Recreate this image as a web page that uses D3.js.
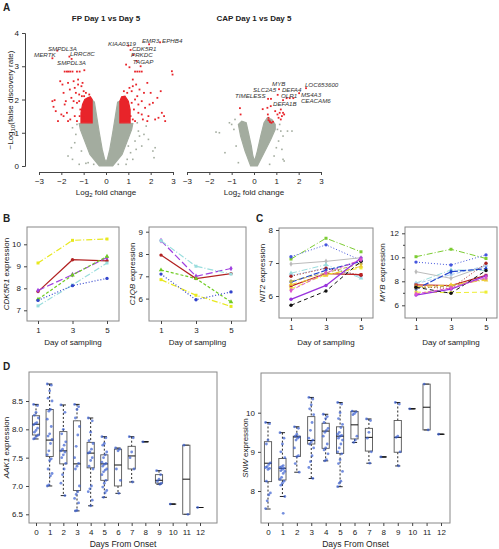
<!DOCTYPE html>
<html><head><meta charset="utf-8">
<script src="https://cdn.jsdelivr.net/npm/d3@7"></script>
<style>body{margin:0;background:#fff}text{font-family:"Liberation Sans",Arial,sans-serif}</style>
</head><body><svg id="c" width="499" height="549"></svg>
<script>
// ---------------- DATA ----------------
// Panel A: volcano plots (log2 fold change, -log10 FDR)
const fpGrayCloud = [[-0.3,0],[0.3,0],[0.72,0.35],[0.98,0.8],[1.15,1.1],[1.2,1.28],[0.62,1.3],[0.62,1.95],[0.52,1.92],[0.42,1.5],[0.3,1.0],[0.17,0.5],[0.06,0.2],[0,0.12],[-0.06,0.2],[-0.17,0.5],[-0.3,1.0],[-0.42,1.5],[-0.52,1.92],[-0.62,1.98],[-0.62,1.3],[-1.2,1.28],[-1.15,1.1],[-0.98,0.8],[-0.72,0.35]];
const fpGrayOut = [[-1.5,0.2],[-1.2,0.05],[-0.9,0.08],[0.9,0.05],[1.2,0.2],[1.6,0.6],[1.5,0.9],[1.3,0.75],[1.45,1.05],[-1.35,0.95],[-1.5,1.15],[-1.1,0.45],[1.1,0.4],[2.1,0.45],[2.15,0.25],[1.4,1.3],[-1.3,1.25],[0.95,0.2],[-0.8,0.1],[1.7,0.95],[-1.55,0.55],[1.0,0.6],[0.55,0.05],[-0.55,0.05],[2.2,0.55],[1.8,1.2],[-1.7,0.3],[-1.4,0.7],[1.35,0.5],[1.9,0.8]];
const fpRedLeftBlock = [[-1.12,1.3],[-0.62,1.3],[-0.62,2.0],[-0.7,2.08],[-0.82,2.05],[-0.95,2.0],[-1.05,1.85],[-1.12,1.6]];
const fpRedRightBlock = [[0.62,1.3],[1.08,1.3],[1.08,1.7],[1.0,1.95],[0.85,2.1],[0.7,2.08],[0.62,1.95]];
const fpRedPts = [[-2.35,1.78],[-2.3,1.98],[-2.25,1.65],[-2.05,2.55],[-1.95,2.45],[-1.85,2.84],[-1.75,2.84],[-1.68,2.84],[-1.6,2.84],[-1.5,2.84],[-1.3,2.84],[-1.18,2.84],[-0.97,2.88],[-1.9,2.2],[-1.8,1.95],[-1.75,1.6],[-1.7,2.5],[-1.62,2.3],[-1.55,2.05],[-1.5,1.75],[-1.45,2.55],[-1.4,1.5],[-1.35,2.2],[-1.3,1.9],[-1.25,2.6],[-1.2,2.15],[-1.15,1.7],[-1.1,2.4],[-1.05,2.5],[-1.02,1.45],[-1.0,2.25],[-2.0,1.55],[-2.15,1.35],[-1.6,1.4],[-1.85,1.85],[-1.4,2.35],[-1.25,2.45],[-0.98,2.1],[-1.3,1.35],[-2.4,1.95],[-1.2,1.95],[-1.18,1.5],[-0.9,2.2],[-0.75,2.15],[-1.08,2.1],[-1.45,1.95],[-1.7,1.35],[-1.9,1.5],
  [-2.4,3.24],[-2.18,3.47],[-1.64,3.29],[-1.54,3.22],[1.0,3.62],[1.1,3.49],[1.93,3.66],[2.42,3.72],[1.22,3.34],[1.37,3.16],
  [0.9,3.05],[1.05,2.97],[1.3,2.84],[1.4,2.84],[1.5,2.84],[1.6,2.84],[1.55,3.0],[2.95,2.85],[2.98,2.75],[1.2,2.6],[1.35,2.45],[1.5,2.3],[1.7,2.2],[1.85,2.5],[2.0,2.2],[2.1,1.9],[2.3,2.05],[2.5,1.6],[2.6,1.5],[2.35,1.45],[1.9,1.5],[1.75,1.75],[1.6,1.95],[1.45,1.6],[1.3,2.0],[1.25,1.7],[1.15,2.25],[1.1,1.5],[2.2,1.4],[1.85,1.35],[1.65,1.4],[1.4,2.1],[1.2,2.4],[1.95,1.85],[2.45,2.25],[2.65,1.35],[1.15,1.9],[1.2,1.4],[0.95,2.2],[0.8,2.25],[1.05,2.35],[1.3,1.35],[1.45,1.85],[1.6,1.55]];
const fpLabelNames = ["SMPDL3A","MERTK","LRRC8C","SMPDL3A","KIAA0319","EMR3","EPHB4","CDK5R1","PRKDC","TAGAP"];
const fpLabelAt = [[-2.6,3.47],[-3.22,3.29],[-1.61,3.32],[-2.19,3.05],[0.09,3.62],[1.61,3.71],[2.51,3.71],[1.16,3.47],[1.12,3.29],[1.2,3.08]];

const capGrayCloud = [[-0.15,0],[0.15,0],[0.45,0.4],[0.75,0.8],[0.95,1.1],[0.95,1.25],[0.8,1.4],[0.6,1.45],[0.45,1.3],[0.3,0.9],[0.15,0.45],[0.03,0.15],[-0.05,0.3],[-0.12,0.6],[-0.25,1.0],[-0.35,1.3],[-0.55,1.35],[-0.7,1.25],[-0.6,0.9],[-0.4,0.45]];
const capGrayOut = [[-1.7,1.02],[-1.55,1.0],[-1.1,1.3],[-1.0,1.25],[-0.85,1.4],[1.05,1.1],[1.2,1.05],[1.3,0.9],[1.5,1.05],[1.1,0.75],[1.25,0.5],[1.3,0.2],[1.35,0.15],[-1.3,0.4],[-0.8,0.6],[0.9,0.3],[1.0,0.55],[-0.7,0.1],[0.7,0.05],[1.7,1.05],[1.15,1.25],[-0.9,1.1]];
const capRedPts = [[1.12,2.31],[1.06,2.14],[2.33,2.34],[2.02,2.19],[1.46,2.04],[1.6,2.04],[1.76,2.04],[1.3,1.98],[0.63,2.02],[0.76,2.02],
  [0.6,1.75],[0.62,1.55],[0.65,1.45],[0.7,1.35],[0.72,1.32],[0.78,1.3],[0.85,1.33],[0.65,1.38],[1.05,1.55],[1.15,1.6],[1.25,1.5],[1.3,1.6],[1.2,1.4],[1.1,1.45],[1.35,1.55],[0.95,1.65],[1.2,1.7],[0.39,1.71],[-0.63,1.74],[-0.6,1.55],[0.75,1.8]];
const capLabelNames = ["MYB","SLC2A5","DEFA4","TIMELESS","OLR1","LOC653600","MS4A3","CEACAM6","DEFA1B"];
const capLabelAt = [[0.81,2.42],[-0.04,2.24],[1.25,2.24],[-0.85,2.06],[1.21,2.06],[2.28,2.39],[2.1,2.08],[2.1,1.9],[0.85,1.79]];
const volcanoTicksX = [-3,-2,-1,0,1,2,3];
const volcanoTicksY = [0,1,2,3,4];

// Panels B and C: expression by day of sampling
const samplingDays = [1,3,5];
const cdk5r1 = [[9.15,10.18,10.24],[7.85,9.3,9.25],[7.9,8.62,9.4],[7.5,8.6,9.45],[7.2,8.15,9.15],[7.45,8.12,8.45]];
const c1qb = [[6.85,6.15,5.65],[7.95,6.9,7.12],[8.6,7.0,7.35],[7.28,6.9,5.85],[8.6,7.45,7.1],[7.1,5.95,6.3]];
const nit2 = [[7.12,7.75,7.34],[7.19,7.55,7.08],[6.97,7.05,7.16],[6.69,6.95,6.54],[6.62,6.85,6.6],[6.6,6.84,6.63],[6.3,6.68,6.65],[6.42,6.78,7.05],[6.45,6.7,6.98],[6.22,6.65,6.85],[6.35,6.62,6.9],[5.9,6.32,7.15],[5.72,6.15,7.05],[6.17,6.7,7.1]];
const myb = [[10.05,10.67,9.9],[9.6,9.36,10.2],[8.8,8.25,9.3],[7.85,8.95,8.9],[7.8,8.55,9.3],[7.55,7.4,9.5],[7.7,7.65,8.5],[7.35,8.8,9.05],[7.45,7.6,8.2],[7.1,7.05,7.1],[7.55,7.7,8.1],[6.85,7.35,8.45],[7.5,7.0,8.9],[6.95,7.45,8.3]];

// Panel D: expression by days from onset (boxplots + samples)
const onsetDays = [0,1,2,3,4,5,6,7,8,9,10,11,12];
const aak1Q3  = [8.24,8.35,7.96,8.15,7.77,7.55,7.65,7.7,7.78,7.2,6.68,7.72,6.62];
const aak1Med = [8.09,7.81,7.62,7.39,7.58,7.39,7.37,7.53,7.78,7.1,6.68,7.12,6.62];
const aak1Q1  = [7.9,7.52,7.39,6.92,7.32,7.1,7.0,7.3,7.78,7.05,6.68,6.5,6.62];
const aak1Hi  = [8.44,8.8,8.43,8.44,8.2,7.87,7.67,7.87,7.78,7.27,6.68,7.72,6.62];
const aak1Lo  = [7.83,7.0,6.83,6.56,6.65,6.8,6.87,7.07,7.78,7.03,6.68,6.5,6.62];
const aak1Samples = [
  [8.44,8.42,8.3,8.25,8.2,8.12,8.1,8.08,8.02,7.98,7.95,7.9,7.88,7.85,7.83],
  [8.8,8.78,8.68,8.55,8.5,8.35,8.32,8.18,8.05,7.92,7.88,7.82,7.75,7.62,7.55,7.48,7.45,7.3,7.22,7.18,7.02,7.0],
  [8.43,8.3,8.0,7.92,7.78,7.72,7.65,7.62,7.6,7.55,7.5,7.4,7.3,7.2,7.05,6.83],
  [8.44,8.4,8.35,8.2,8.05,7.9,7.7,7.5,7.4,7.35,7.3,7.0,6.9,6.85,6.78,6.7,6.57,6.56],
  [8.2,8.15,7.95,7.8,7.75,7.65,7.6,7.58,7.5,7.45,7.35,7.3,7.0,6.95,6.9,6.75,6.65],
  [7.87,7.85,7.75,7.72,7.6,7.55,7.5,7.42,7.4,7.38,7.35,7.3,7.28,7.25,7.2,7.1,7.05,6.98,6.92,6.88,6.8],
  [7.67,7.65,7.62,7.3,7.1,6.87],
  [7.87,7.85,7.6,7.5,7.3,7.07],
  [7.78],
  [7.27,7.2,7.12,7.08,7.05,7.03],
  [6.68],
  [7.72,6.5],
  [6.62]];
const snwQ3  = [9.26,8.83,9.4,9.9,9.73,9.64,10.03,9.6,8.87,9.8,10.1,10.73,9.45];
const snwMed = [8.71,8.58,9.38,9.29,9.53,9.4,9.69,9.37,8.87,9.37,10.1,10.14,9.45];
const snwQ1  = [8.24,8.28,8.88,9.2,9.09,8.96,9.33,9.02,8.87,8.99,10.1,9.56,9.45];
const snwHi  = [9.75,9.49,9.64,10.39,9.96,10.26,10.04,9.84,8.87,10.26,10.1,10.73,9.45];
const snwLo  = [7.54,7.86,8.48,8.32,8.77,8.11,9.24,8.71,8.87,8.64,10.1,9.56,9.45];
const snwSamples = [
  [9.75,9.72,9.3,9.2,8.72,8.68,8.62,8.6,8.58,8.55,8.25,7.95,7.9,7.75,7.55],
  [9.49,9.35,9.2,9.0,8.85,8.65,8.62,8.6,8.58,8.55,8.52,8.5,8.45,8.35,8.3,8.25,8.2,8.15,7.86,7.43],
  [9.64,9.6,9.45,9.4,9.38,9.35,9.3,9.1,8.9,8.88,8.7,8.48],
  [10.39,10.35,10.2,10.1,9.95,9.75,9.55,9.35,9.3,9.25,9.2,9.1,8.9,8.75,8.6,8.32],
  [9.96,9.9,9.85,9.75,9.6,9.55,9.5,9.4,9.2,9.1,9.05,8.95,8.8,8.77],
  [10.26,10.22,10.0,9.85,9.7,9.62,9.5,9.45,9.42,9.4,9.35,9.3,9.2,9.1,9.0,8.95,8.8,8.7,8.5,8.25,8.2,8.11],
  [10.04,10.02,9.98,9.95,9.4,9.3,9.24],
  [9.84,9.8,9.5,9.35,9.0,8.71],
  [8.87],
  [10.26,10.22,9.4,9.37,9.0,8.64],
  [10.1],
  [10.73,9.56],
  [9.45]];

// ---------------- STYLES ----------------
const GRAY = "#a3ac9f", RED = "#e8242a";
const bColors = ["#e8e81e","#b22222","#a040e0","#6fcc22","#99dddd","#3344cc"];
const bDash = ["6,2,1,2","","7,3","3,2","6,2,1,2","1,2"];
const cColors = ["#7ccc33","#4455dd","#bbbbbb","#99dddd","#aaccee","#aa2222","#bb2222","#2244cc","#bbaa55","#eeee33","#eecc33","#9933dd","#111111","#dd55cc"];
const cDash = ["6,2,1,2","1,2","","6,2,1,2","4,2","1,2","","6,2","4,2","5,3","6,2,1,2","","4,3","4,2"];
const cWidth = [1,1,1,1,1,1,1.2,1.2,1,1,1,1.4,1,1];

// ---------------- DRAW ----------------
const svg = d3.select("#c");
svg.append("rect").attr("width",499).attr("height",549).attr("fill","#fff");
const FONT = 8;
function styleAxis(g){
  g.selectAll("text").attr("font-size",FONT).attr("fill","#222");
  g.selectAll("line").attr("stroke","#444");
  g.select(".domain").attr("stroke","#444");
}
function txt(x,y,s,opt={}){
  const t = svg.append("text").attr("x",x).attr("y",y).attr("font-size",opt.size||FONT)
    .attr("fill",opt.fill||"#222").attr("text-anchor",opt.anchor||"start");
  if(opt.bold) t.attr("font-weight","bold");
  if(opt.italic) t.attr("font-style","italic");
  if(opt.rotate) t.attr("transform",`rotate(-90,${x},${y})`);
  t.text(s); return t;
}
// panel letters
txt(3,11,"A",{bold:true,size:10});
txt(3,222,"B",{bold:true,size:10});
txt(256,222,"C",{bold:true,size:10});
txt(3,370,"D",{bold:true,size:10});

// ---- Panel A ----
const vY = d3.scaleLinear().domain([0,4]).range([166,33]);
function volcano(xs, cloud, grayOut, redBlocks, redPts, names, at, title){
  const line = d3.line().x(d=>xs(d[0])).y(d=>vY(d[1]));
  svg.append("path").attr("d",line(cloud)+"Z").attr("fill",GRAY).attr("stroke",GRAY).attr("stroke-width",1.2);
  svg.append("g").selectAll("rect").data(grayOut).join("rect")
    .attr("x",d=>xs(d[0])-0.8).attr("y",d=>vY(d[1])-0.8).attr("width",1.6).attr("height",1.6).attr("fill",GRAY);
  redBlocks.forEach(b=>svg.append("path").attr("d",line(b)+"Z").attr("fill",RED).attr("stroke",RED).attr("stroke-width",1.2));
  svg.append("g").selectAll("rect").data(redPts).join("rect")
    .attr("x",d=>xs(d[0])-0.9).attr("y",d=>vY(d[1])-0.9).attr("width",1.8).attr("height",1.8).attr("fill",RED);
  names.forEach((n,i)=>txt(xs(at[i][0]),vY(at[i][1]),n,{italic:true,size:6.2,fill:"#333"}));
  const ax = svg.append("g").attr("transform","translate(0,172)")
    .call(d3.axisBottom(xs).tickValues(volcanoTicksX).tickSize(3).tickPadding(3).tickFormat(d3.format("d")));
  styleAxis(ax);
  const cx = (xs.range()[0]+xs.range()[1])/2;
  const t = txt(cx,195,"",{anchor:"middle"});
  t.append("tspan").text("Log");
  t.append("tspan").attr("font-size",6).attr("dy",2).text("2");
  t.append("tspan").attr("dy",-2).text(" fold change");
  txt(cx,21,title,{bold:true,anchor:"middle"});
}
const fpX = d3.scaleLinear().domain([-3,3]).range([39,173]);
const capX = d3.scaleLinear().domain([-3,3]).range([187,321]);
volcano(fpX, fpGrayCloud, fpGrayOut, [fpRedLeftBlock, fpRedRightBlock], fpRedPts, fpLabelNames, fpLabelAt, "FP Day 1 vs Day 5");
volcano(capX, capGrayCloud, capGrayOut, [], capRedPts, capLabelNames, capLabelAt, "CAP Day 1 vs Day 5");
const ay = svg.append("g").attr("transform","translate(25,0)")
  .call(d3.axisLeft(vY).tickValues(volcanoTicksY).tickSize(3).tickPadding(3).tickFormat(d3.format("d")));
styleAxis(ay);
{
  const t = txt(13,100,"",{anchor:"middle",rotate:true});
  t.append("tspan").text("\u2212Log");
  t.append("tspan").attr("font-size",6).attr("dy",2).text("10");
  t.append("tspan").attr("dy",-2).text("(false discovery rate)");
}

// ---- Panels B, C ----
const symbols = [d3.symbolSquare,d3.symbolCircle,d3.symbolDiamond,d3.symbolTriangle,d3.symbolSquare,d3.symbolCircle,d3.symbolSquare,d3.symbolDiamond,d3.symbolCircle,d3.symbolSquare,d3.symbolTriangle,d3.symbolCircle,d3.symbolCircle,d3.symbolDiamond];
function linePanel(p){
  const xs = d3.scaleLinear().domain([1,5]).range(p.xr);
  const ys = d3.scaleLinear().domain(p.yd).range(p.yr);
  const g = svg.append("g");
  const line = d3.line().x((d,i)=>xs(samplingDays[i])).y(d=>ys(d));
  p.series.forEach((s,k)=>{
    g.append("path").attr("d",line(s)).attr("fill","none").attr("stroke",p.colors[k])
      .attr("stroke-width",p.widths? p.widths[k]:1.2).attr("stroke-dasharray",p.dash[k]||null);
    g.selectAll(null).data(s).join("path")
      .attr("transform",(d,i)=>`translate(${xs(samplingDays[i])},${ys(d)})`)
      .attr("d",d3.symbol().type(symbols[k%symbols.length]).size(9)).attr("fill",p.colors[k]);
  });
  svg.append("rect").attr("x",p.box[0]).attr("y",p.box[2]).attr("width",p.box[1]-p.box[0]).attr("height",p.box[3]-p.box[2])
    .attr("fill","none").attr("stroke","#888").attr("stroke-width",1);
  const ax = svg.append("g").attr("transform",`translate(0,${p.box[3]})`)
    .call(d3.axisBottom(xs).tickValues(samplingDays).tickSize(3).tickPadding(3).tickFormat(d3.format("d")));
  styleAxis(ax); ax.select(".domain").remove();
  const ayg = svg.append("g").attr("transform",`translate(${p.box[0]},0)`)
    .call(d3.axisLeft(ys).tickValues(p.yt).tickSize(3).tickPadding(3).tickFormat(d3.format("d")));
  styleAxis(ayg); ayg.select(".domain").remove();
  if(p.minor){
    svg.append("g").selectAll("line").data(p.minor).join("line")
      .attr("x1",p.box[0]-2).attr("x2",p.box[0]).attr("y1",d=>ys(d)).attr("y2",d=>ys(d)).attr("stroke","#444");
  }
  const cx = (p.box[0]+p.box[1])/2;
  txt(cx,345,"Day of sampling",{anchor:"middle"});
  const cy = (p.box[2]+p.box[3])/2;
  const t = txt(p.ylx,cy,"",{anchor:"middle",rotate:true});
  t.append("tspan").attr("font-style","italic").text(p.gene);
  t.append("tspan").text(" expression");
}
linePanel({box:[27,119,227,321],xr:[38,107],yd:[7,10],yr:[310.3,244.3],yt:[7,8,9,10],series:cdk5r1,colors:bColors,dash:bDash,gene:"CDK5R1",ylx:9});
linePanel({box:[149,246,227,321],xr:[161,231],yd:[6,9],yr:[298.6,231.7],yt:[6,7,8,9],series:c1qb,colors:bColors,dash:bDash,gene:"C1QB",ylx:135});
linePanel({box:[279,373,228,318],xr:[291,361],yd:[6,8],yr:[296,230],yt:[6,7,8],series:nit2,colors:cColors,dash:cDash,widths:cWidth,gene:"NIT2",ylx:265});
linePanel({box:[405,497,227,318],xr:[416,486],yd:[6,12],yr:[305.3,233.3],yt:[6,8,10,12],minor:[7,9,11],series:myb,colors:cColors,dash:cDash,widths:cWidth,gene:"MYB",ylx:385});

// ---- Panel D ----
function boxPanel(p){
  const xs = d3.scaleLinear().domain([0,12]).range(p.xr);
  const ys = d3.scaleLinear().domain(p.yd).range(p.yr);
  const g = svg.append("g");
  const hw = 3.6, cap = 2.6;
  onsetDays.forEach((d,i)=>{
    const x = xs(d);
    if(p.hi[i]>p.q3[i]) g.append("line").attr("x1",x).attr("x2",x).attr("y1",ys(p.hi[i])).attr("y2",ys(p.q3[i])).attr("stroke","#111").attr("stroke-dasharray","2,2").attr("stroke-width",0.9);
    if(p.lo[i]<p.q1[i]) g.append("line").attr("x1",x).attr("x2",x).attr("y1",ys(p.q1[i])).attr("y2",ys(p.lo[i])).attr("stroke","#111").attr("stroke-dasharray","2,2").attr("stroke-width",0.9);
    [p.hi[i],p.lo[i]].forEach(v=>g.append("line").attr("x1",x-cap).attr("x2",x+cap).attr("y1",ys(v)).attr("y2",ys(v)).attr("stroke","#111").attr("stroke-width",0.9));
    g.append("rect").attr("x",x-hw).attr("y",ys(p.q3[i])).attr("width",2*hw).attr("height",Math.max(0,ys(p.q1[i])-ys(p.q3[i])))
      .attr("fill","none").attr("stroke","#555").attr("stroke-width",0.9);
    g.append("line").attr("x1",x-hw).attr("x2",x+hw).attr("y1",ys(p.med[i])).attr("y2",ys(p.med[i])).attr("stroke","#111").attr("stroke-width",1);
    g.selectAll(null).data(p.samples[i]).join("circle")
      .attr("cx",(v,k)=>x+(((k*5)%7)-3)*0.8).attr("cy",v=>ys(v)).attr("r",1.4)
      .attr("fill","#3a5fd0").attr("fill-opacity",0.7);
  });
  svg.append("rect").attr("x",p.box[0]).attr("y",p.box[2]).attr("width",p.box[1]-p.box[0]).attr("height",p.box[3]-p.box[2])
    .attr("fill","none").attr("stroke","#888").attr("stroke-width",1);
  const ax = svg.append("g").attr("transform",`translate(0,${p.box[3]})`)
    .call(d3.axisBottom(xs).tickValues(onsetDays).tickSize(3).tickPadding(3).tickFormat(d3.format("d")));
  styleAxis(ax); ax.select(".domain").remove();
  const ayg = svg.append("g").attr("transform",`translate(${p.box[0]},0)`)
    .call(d3.axisLeft(ys).tickValues(p.yt).tickSize(3).tickPadding(3).tickFormat(p.fmt));
  styleAxis(ayg); ayg.select(".domain").remove();
  txt((p.box[0]+p.box[1])/2,547,"Days From Onset",{anchor:"middle",size:8.5});
  const t = txt(p.ylx,(p.box[2]+p.box[3])/2,"",{anchor:"middle",rotate:true});
  t.append("tspan").attr("font-style","italic").text(p.gene);
  t.append("tspan").text(" expression");
}
boxPanel({box:[29,217,372,523],xr:[36,200],yd:[6.5,8.5],yr:[514.3,401],yt:[6.5,7,7.5,8,8.5],fmt:d3.format(".1f"),
  q1:aak1Q1,med:aak1Med,q3:aak1Q3,lo:aak1Lo,hi:aak1Hi,samples:aak1Samples,gene:"AAK1",ylx:9});
boxPanel({box:[261,450,373,523],xr:[268,441],yd:[8,10],yr:[491,412.7],yt:[8,9,10],fmt:d3.format("d"),
  q1:snwQ1,med:snwMed,q3:snwQ3,lo:snwLo,hi:snwHi,samples:snwSamples,gene:"SNW",ylx:248});
</script></body></html>
